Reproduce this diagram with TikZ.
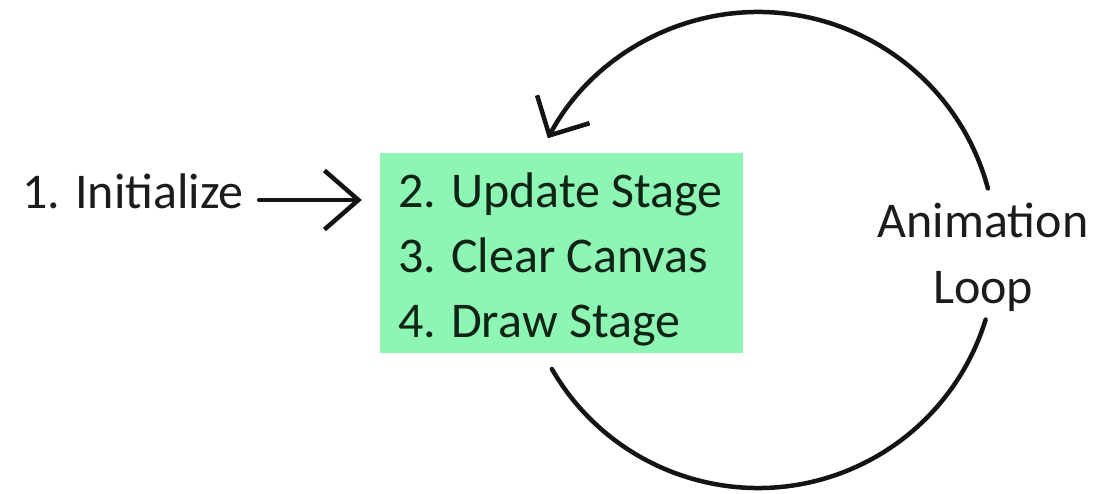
\documentclass[tikz,border=0pt]{standalone}
\usepackage{fontspec}
\setmainfont{Carlito}
\usetikzlibrary{arrows.meta}
\definecolor{stagegreen}{RGB}{141,246,181}
\definecolor{inktext}{RGB}{28,28,28}
\definecolor{boxtext}{RGB}{16,36,22}
\begin{document}
\begin{tikzpicture}[x=1pt,y=-1pt,
  caption/.style={font=\fontsize{50}{65}\selectfont, text=inktext, inner sep=0pt},
  steptext/.style={caption, text=boxtext, anchor=base west},
  stagebox/.style={fill=stagegreen, draw=none, minimum width=363pt,
                   minimum height=200pt, inner sep=0pt},
  flow/.style={line width=4.5pt, draw=black!92, line cap=round, line join=round},
]
\useasboundingbox (0,0) rectangle (1099,493);

% green box holding the loop steps
\node[stagebox] (box) at (561.5,253) {};
\node[steptext] (update) at (398,207) {2. Update Stage};
\node[steptext] (clear)  at (398,272) {3. Clear Canvas};
\node[steptext] (drawst) at (398,337) {4. Draw Stage};

% entry step and its arrow into the box
\node[caption, anchor=base west] (init) at (22,208) {1. Initialize};
\coordinate (shaftstart) at ([shift={(15pt,8pt)}]init.base east);
\draw[flow, -{Straight Barb[angle=82:45pt]}]
  (shaftstart) -- ([xshift=-18pt]box.west |- shaftstart);

% loop label
\node[caption, anchor=base] (anim) at (983,237) {Animation};
\node[caption, anchor=base] (loop) at (983,303) {Loop};

% circular loop around the label, returning to the box
\coordinate (loopc) at (758,250);
\draw[flow, -{Straight Barb[angle=90:42pt]}]
  ([shift={(15:238pt)}]loopc) arc[start angle=15, end angle=152, radius=238pt];
\draw[flow]
  ([shift={(210:238pt)}]loopc) arc[start angle=210, end angle=343, radius=238pt];
\end{tikzpicture}
\end{document}
